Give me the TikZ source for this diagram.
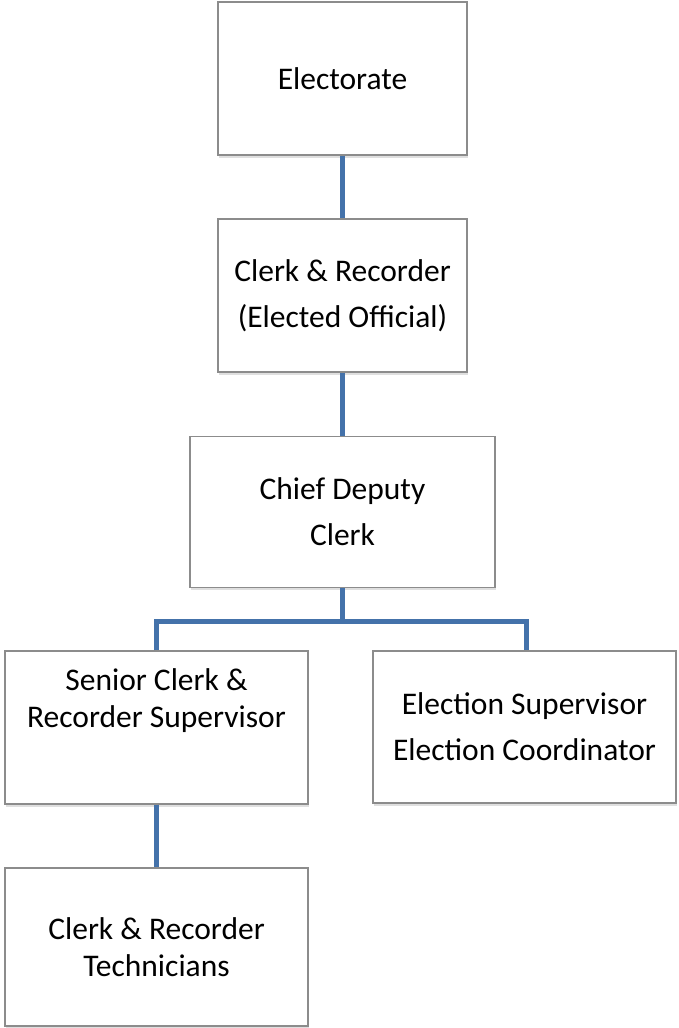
\documentclass[tikz,border=0pt]{standalone}
\usepackage{fontspec}
\setmainfont{Carlito}
\definecolor{linkblue}{RGB}{68, 114, 170}
\definecolor{boxgray}{RGB}{140, 140, 140}
\usetikzlibrary{shadows}

\begin{document}
\begin{tikzpicture}[x=1pt, y=-1pt,
    orgbox/.style={draw=boxgray, line width=1.3pt, fill=white, align=center, inner sep=0pt,
      drop shadow={shadow xshift=1pt, shadow yshift=-2.5pt, opacity=0.25},
      font=\fontsize{31.5}{46}\selectfont},
    tightbox/.style={orgbox, font=\fontsize{31.5}{37}\selectfont},
    link/.style={draw=linkblue, line width=5pt}]
  \useasboundingbox (0,0) rectangle (678,1028);
  \node[orgbox, minimum width=249pt, minimum height=153pt] (electorate) at (342.5, 78.5) {Electorate};
  \node[orgbox, minimum width=249pt, minimum height=153pt] (clerk) at (342.5, 295.5) {Clerk \& Recorder\\(Elected Official)};
  \node[orgbox, minimum width=305pt, minimum height=151pt] (chief) at (342.5, 512) {Chief Deputy\\Clerk};
  \node[tightbox, minimum width=303pt, minimum height=153pt] (senior) at (156.5, 727.5)
    {\raisebox{26pt}[\height][\depth]{\begin{tabular}{@{}c@{}}Senior Clerk \&\\Recorder Supervisor\end{tabular}}};
  \node[orgbox, minimum width=303pt, minimum height=152pt] (election) at (524.5, 727) {Election Supervisor\\Election Coordinator};
  \node[tightbox, minimum width=303pt, minimum height=158pt] (techs) at (156.5, 947) {Clerk \& Recorder\\Technicians};
  \coordinate (bar) at (342.5, 621);
  % connectors
  \draw[link] (electorate.south) -- (clerk.north);
  \draw[link] (clerk.south) -- (chief.north);
  \draw[link] (chief.south) -- (bar);
  \draw[link] (senior.north) |- (bar) -| ([xshift=1.5pt]election.north);
  \draw[link] (senior.south) -- (techs.north);
\end{tikzpicture}
\end{document}
